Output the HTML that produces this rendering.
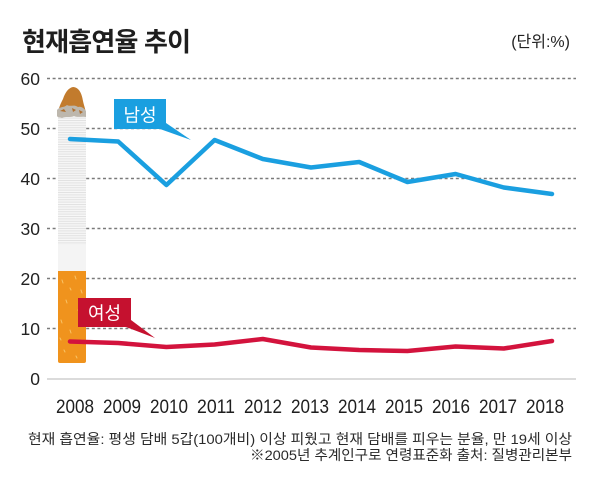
<!DOCTYPE html>
<html><head><meta charset="utf-8"><style>
html,body{margin:0;padding:0;background:#fff;}
svg{display:block;}
</style></head><body>
<svg width="600" height="483" viewBox="0 0 600 483" xmlns="http://www.w3.org/2000/svg">
<rect width="600" height="483" fill="#fff"/>
<text x="22" y="51" font-family="'Liberation Sans','Noto Sans CJK KR',sans-serif" font-weight="bold" font-size="26" letter-spacing="-0.8" fill="#1e1e1e">현재흡연율 추이</text>
<text x="570" y="47" text-anchor="end" font-family="'Liberation Sans','Noto Sans CJK KR',sans-serif" font-size="16" fill="#222">(단위:%)</text>

<g stroke="#7a7a7a" stroke-width="1.5" stroke-dasharray="3,2.6">
<line x1="47" y1="78.5" x2="576" y2="78.5"/>
<line x1="47" y1="128.5" x2="576" y2="128.5"/>
<line x1="47" y1="178.5" x2="576" y2="178.5"/>
<line x1="47" y1="228.5" x2="576" y2="228.5"/>
<line x1="47" y1="278.5" x2="576" y2="278.5"/>
<line x1="47" y1="328.5" x2="576" y2="328.5"/>
</g>
<line x1="47" y1="379" x2="576" y2="379" stroke="#cfcfcf" stroke-width="1.5"/>

<g font-family="'Liberation Sans',sans-serif" font-size="17.5" fill="#222" text-anchor="end">
<text x="40" y="85">60</text>
<text x="40" y="135">50</text>
<text x="40" y="185">40</text>
<text x="40" y="235">30</text>
<text x="40" y="285">20</text>
<text x="40" y="335">10</text>
<text x="40" y="385">0</text>
</g>

<!-- cigarette -->
<defs>
<pattern id="stripes" x="0" y="0" width="4" height="2.4" patternUnits="userSpaceOnUse">
<rect width="4" height="2.4" fill="#f7f7f7"/>
<rect width="4" height="1" fill="#e2e2e2"/>
</pattern>
</defs>
<rect x="58" y="116" width="28" height="130" fill="url(#stripes)"/>
<rect x="58" y="245" width="28" height="27" fill="#f4f4f4"/>
<path d="M58,271 L86,271 L86,361 Q86,363 84,363 L60,363 Q58,363 58,361 Z" fill="#f0931d"/>
<g stroke="#f8c468" stroke-width="1" stroke-linecap="round">
<line x1="62" y1="280" x2="63" y2="283"/><line x1="75" y1="276" x2="76" y2="279"/>
<line x1="81" y1="290" x2="82" y2="293"/><line x1="66" y1="300" x2="67" y2="303"/>
<line x1="78" y1="310" x2="79" y2="312"/><line x1="61" y1="320" x2="62" y2="323"/>
<line x1="70" y1="330" x2="71" y2="333"/><line x1="82" y1="340" x2="83" y2="342"/>
<line x1="64" y1="350" x2="65" y2="352"/><line x1="76" y1="356" x2="77" y2="358"/>
<line x1="70" y1="288" x2="71" y2="290"/><line x1="60" y1="338" x2="61" y2="340"/>
</g>
<!-- ash/ember -->
<path d="M58,116 C58,108 61,103 63,99 C65,93 68,88 73,87 C79,87 82,94 83,101 C84,106 86,110 86,116 Z" fill="#c27b2d"/>
<path d="M57,110 C60,106 64,108 67,105 C70,107 74,104 78,107 C81,106 84,108 86,111 L86,117 C82,116 78,118 74,116 C70,118 66,116 62,118 C60,117 58,118 57,116 Z" fill="#bdb7ad"/>
<path d="M60,111 L64,109 L66,112 Z M72,108 L76,110 L73,112 Z M79,110 L83,112 L80,114 Z" fill="#b07030"/>

<!-- male line -->
<polyline fill="none" stroke="#1a9fe0" stroke-width="4.5" stroke-linejoin="round" stroke-linecap="round"
points="70,139 118.2,141.5 166.4,185 214.6,140 262.8,159 311,167.5 359.2,162 407.4,182 455.6,174 503.8,187.5 552,194"/>
<!-- female line -->
<polyline fill="none" stroke="#d3133d" stroke-width="4.5" stroke-linejoin="round" stroke-linecap="round"
points="70,341.5 118.2,343 166.4,347 214.6,344.5 262.8,339 311,347.5 359.2,350 407.4,351 455.6,346.5 503.8,348.5 552,341"/>

<!-- callouts -->
<rect x="114" y="99" width="52" height="30" fill="#1a9fe0"/>
<polygon points="160,129 166,123 191,140" fill="#1a9fe0"/>
<text x="140" y="121.5" text-anchor="middle" font-family="'Liberation Sans','Noto Sans CJK KR',sans-serif" font-size="18" fill="#fff">남성</text>

<rect x="78" y="298" width="53" height="29" fill="#c5112f"/>
<polygon points="126,327 131,320 155,338" fill="#c5112f"/>
<text x="104.5" y="319.5" text-anchor="middle" font-family="'Liberation Sans','Noto Sans CJK KR',sans-serif" font-size="18" fill="#fff">여성</text>

<!-- years -->
<g font-family="'Liberation Sans',sans-serif" font-size="19.5" fill="#1e1e1e" text-anchor="middle">
<text x="75" y="413" textLength="38" lengthAdjust="spacingAndGlyphs">2008</text>
<text x="122" y="413" textLength="38" lengthAdjust="spacingAndGlyphs">2009</text>
<text x="169" y="413" textLength="38" lengthAdjust="spacingAndGlyphs">2010</text>
<text x="216" y="413" textLength="38" lengthAdjust="spacingAndGlyphs">2011</text>
<text x="263" y="413" textLength="38" lengthAdjust="spacingAndGlyphs">2012</text>
<text x="310" y="413" textLength="38" lengthAdjust="spacingAndGlyphs">2013</text>
<text x="357" y="413" textLength="38" lengthAdjust="spacingAndGlyphs">2014</text>
<text x="404" y="413" textLength="38" lengthAdjust="spacingAndGlyphs">2015</text>
<text x="451" y="413" textLength="38" lengthAdjust="spacingAndGlyphs">2016</text>
<text x="498" y="413" textLength="38" lengthAdjust="spacingAndGlyphs">2017</text>
<text x="545" y="413" textLength="38" lengthAdjust="spacingAndGlyphs">2018</text>
</g>

<g font-family="'Liberation Sans','Noto Sans CJK KR',sans-serif" font-size="14" fill="#2a2a2a">
<text x="28" y="444" textLength="544" lengthAdjust="spacingAndGlyphs">현재 흡연율: 평생 담배 5갑(100개비) 이상 피웠고 현재 담배를 피우는 분율, 만 19세 이상</text>
<text x="250" y="460" textLength="322" lengthAdjust="spacingAndGlyphs">※2005년 추계인구로 연령표준화 출처: 질병관리본부</text>
</g>
</svg>
</body></html>
